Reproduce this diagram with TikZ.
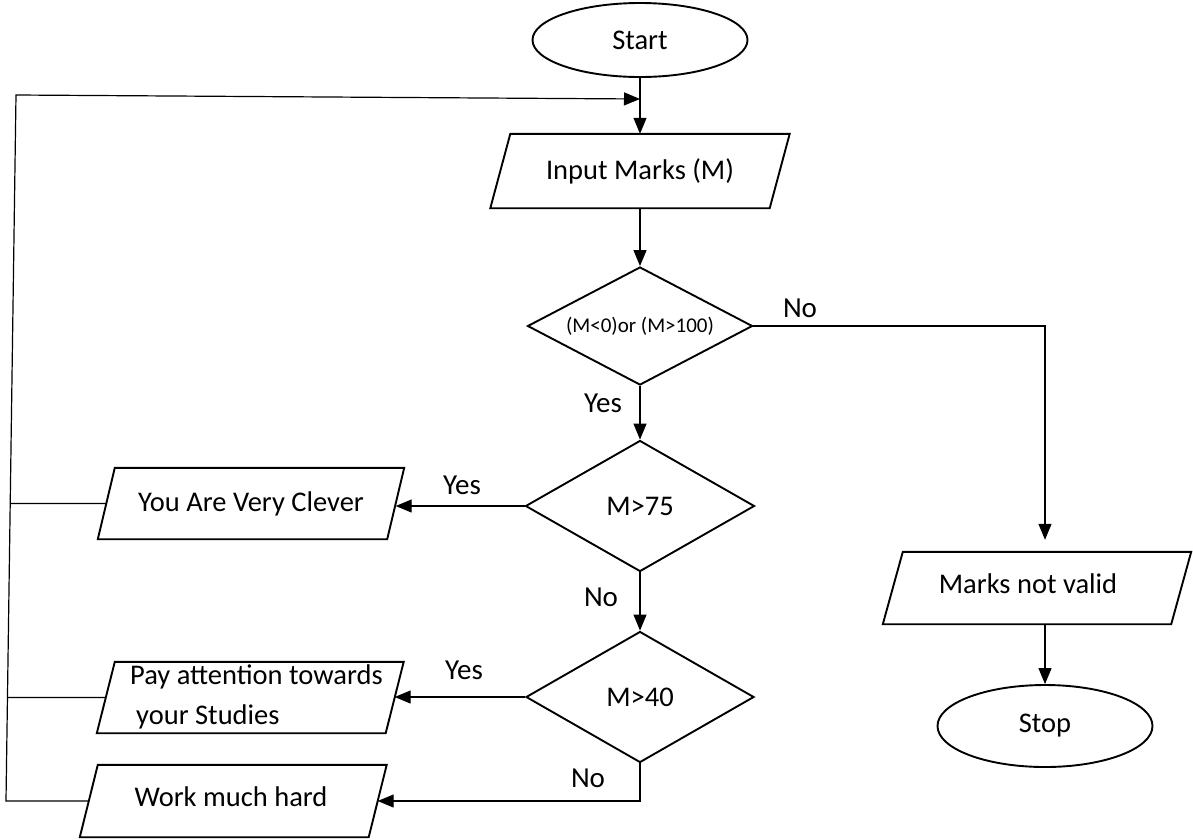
\documentclass[tikz,border=0pt]{standalone}
\usepackage{fontspec}
\setmainfont{Carlito}
\usetikzlibrary{shapes.geometric,arrows.meta,calc}
\newcommand\drawpara[2]{\draw[shp] ($(#1.north west)+(#2,0)$) -- ($(#1.north east)+(#2,0)$) -- ($(#1.south east)+(-#2,0)$) -- ($(#1.south west)+(-#2,0)$) -- cycle;}
\begin{document}
\begin{tikzpicture}[x=1pt,y=-1pt,
  font=\fontsize{28.5}{34}\selectfont,
  shp/.style={draw=black,line width=1.9pt},
  conn/.style={line width=1.2pt},
  arr/.style={conn,-{Triangle[length=16pt,width=13pt]}},
  term/.style={ellipse,shp,inner sep=0pt,minimum width=215pt},
  dec/.style={diamond,shp,inner sep=0pt,aspect=1.9},
  io/.style={rectangle,inner sep=0pt},
  lbl/.style={inner sep=0pt,font=\fontsize{29}{34}\selectfont}]
\useasboundingbox[fill=white] (0,0) rectangle (1193,839);

% terminals
\node[term,minimum height=74pt] (start) at (640,40) {Start};
\node[term,minimum height=82pt] (stop) at (1045,726) {Stop};

% input / output boxes
\node[io,minimum width=279pt,minimum height=74pt] (input) at (640,171) {Input Marks (M)};
\drawpara{input}{10}
\node[io,minimum width=289pt,minimum height=71pt] (clever) at (251,503.5) {You Are Very Clever};
\drawpara{clever}{8.5}
\node[io,minimum width=288.5pt,minimum height=71pt] (pay) at (250.25,697.5) {};
\drawpara{pay}{9}
\node[inner sep=0pt,anchor=west] (payA) at (130,677) {Pay attention towards};
\node[inner sep=0pt,anchor=west] (payB) at (136,717) {your Studies};
\node[io,minimum width=288.5pt,minimum height=72pt] (work) at (233.25,801) {};
\drawpara{work}{9}
\node[inner sep=0pt] (workT) at (231,797) {Work much hard};
\node[io,minimum width=288pt,minimum height=72pt] (marks) at (1037,588) {};
\drawpara{marks}{10}
\node[inner sep=0pt] (marksT) at (1028,584) {Marks not valid};

% decisions
\node[dec,minimum width=225pt,minimum height=118pt] (d1) at (640,326) {\fontsize{21}{26}\selectfont (M<0)or (M>100)};
\node[dec,minimum width=229pt,minimum height=131pt] (d2) at (640,506) {M>75};
\node[dec,minimum width=228pt,minimum height=131pt] (d3) at (640,697) {M>40};

% connectors
\coordinate (merge) at (640,99);
\coordinate (bl) at (6,801);
\coordinate (tl) at (16,95);
\draw[arr] (start.south) -- (input.north);
\draw[arr] (input.south) -- (d1.north);
\draw[arr,shorten >=12pt] (d1.east) -| (stop.north |- marks.north);
\draw[arr] (stop.north |- marks.south) -- (stop.north);
\draw[arr] (d1.south) -- (d2.north);
\draw[arr] (d2.west) -- (d2.west -| clever.east);
\draw[arr] (d2.south) -- (d3.north);
\draw[arr] (d3.west) -- (d3.west -| pay.east);
\draw[arr] (d3.south) |- (work.east);
\draw[arr] (work.west) -- (bl) -- (tl) -- (merge);
\draw[conn] (clever.west) -- ($(bl)!0.4214!(tl)$);
\draw[conn] (pay.west) -- ($(bl)!0.1466!(tl)$);

% labels
\node[lbl] (l1) at (800,308) {No};
\node[lbl] (l2) at (603,403) {Yes};
\node[lbl] (l3) at (462,485) {Yes};
\node[lbl] (l4) at (601,597) {No};
\node[lbl] (l5) at (464,670) {Yes};
\node[lbl] (l6) at (588,778) {No};
\end{tikzpicture}
\end{document}
